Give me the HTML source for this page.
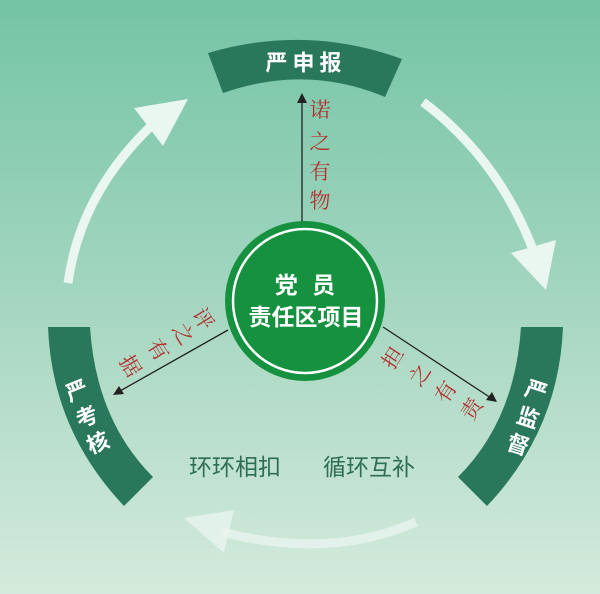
<!DOCTYPE html>
<html><head><meta charset="utf-8"><style>
html,body{margin:0;padding:0;}
body{width:600px;height:594px;overflow:hidden;}
svg{display:block;}
</style></head><body>
<svg width="600" height="594" viewBox="0 0 600 594" xmlns="http://www.w3.org/2000/svg">
<defs>
<linearGradient id="bg" x1="0" y1="0" x2="0" y2="1">
<stop offset="0" stop-color="#74c4a5"/>
<stop offset="0.5" stop-color="#a4d6c0"/>
<stop offset="1" stop-color="#d4eadc"/>
</linearGradient>
</defs>
<rect width="600" height="594" fill="url(#bg)"/>

<g fill="none" stroke="#eaf6f0" stroke-width="9">
<path d="M68,283 Q80,195 150,127"/>
<path d="M423,102 Q500,160 535,255"/>
<path d="M416,522 Q330,560 222,532" stroke-opacity="0.75"/>
</g>
<polygon points="134,108 188,99 163,146" fill="#eaf6f0"/>
<polygon points="511,253 556,240 546,290" fill="#eaf6f0"/>
<polygon points="184,518 234,510 224,553" fill="#eaf6f0" fill-opacity="0.75"/>

<g fill="#2a785c">
<path d="M208,53 Q306,24 402,59 L385,97 Q306,64 223,93 Z"/>
<path d="M48,327 Q52,430 124,506 L153,477 Q96,420 90,327 Z"/>
<path d="M563,327 Q559,430 487,506 L458,477 Q515,420 521,327 Z"/>
</g>

<g font-family="'Liberation Sans','Noto Sans CJK SC',sans-serif" font-weight="bold" fill="#fff" font-size="22" text-anchor="middle" dominant-baseline="central">
<text x="306" y="63" letter-spacing="5">严申报</text>
<text x="77" y="391" transform="rotate(-22 77 391)">严</text>
<text x="87" y="417" transform="rotate(-22 87 417)">考</text>
<text x="98" y="443" transform="rotate(-22 98 443)">核</text>
<text x="536" y="391" transform="rotate(18 536 391)">严</text>
<text x="528" y="418" transform="rotate(18 528 418)">监</text>
<text x="518" y="445" transform="rotate(18 518 445)">督</text>
</g>

<g stroke="#222" stroke-width="1.3">
<line x1="302" y1="222" x2="302" y2="100"/>
<line x1="228" y1="330" x2="120" y2="391"/>
<line x1="383" y1="327" x2="491" y2="398"/>
</g>
<polygon points="302,93 297,103 307,103" fill="#222"/>
<polygon points="113,395 119,386 124,394" fill="#222"/>
<polygon points="497,402 486,400 492,392" fill="#222"/>

<g font-family="'Liberation Serif','Noto Serif CJK SC',serif" fill="#b3302f" font-size="21" text-anchor="middle" dominant-baseline="central">
<text x="320" y="110">诺</text>
<text x="320" y="142">之</text>
<text x="320" y="172">有</text>
<text x="320" y="201">物</text>
<text x="203" y="319" transform="rotate(58 203 319)">评</text>
<text x="183" y="334" transform="rotate(58 183 334)">之</text>
<text x="158" y="350" transform="rotate(58 158 350)">有</text>
<text x="130" y="366" transform="rotate(58 130 366)">据</text>
<text x="393" y="358" transform="rotate(-57 393 358)">担</text>
<text x="420" y="375" transform="rotate(-57 420 375)">之</text>
<text x="446" y="392" transform="rotate(-57 446 392)">有</text>
<text x="472" y="409" transform="rotate(-57 472 409)">责</text>
</g>

<circle cx="305" cy="301" r="80" fill="#16913f"/>
<circle cx="305" cy="301" r="72" fill="none" stroke="#fff" stroke-width="2.5"/>
<g font-family="'Liberation Sans','Noto Sans CJK SC',sans-serif" font-weight="bold" fill="#fff" font-size="23" text-anchor="middle" dominant-baseline="central">
<text x="307" y="285" letter-spacing="4">党 员</text>
<text x="306" y="317">责任区项目</text>
</g>

<g font-family="'Liberation Sans','Noto Sans CJK SC',sans-serif" fill="#2f6e55" font-size="23" dominant-baseline="central">
<text x="189" y="467">环环相扣</text>
<text x="323" y="467">循环互补</text>
</g>
</svg>
</body></html>
